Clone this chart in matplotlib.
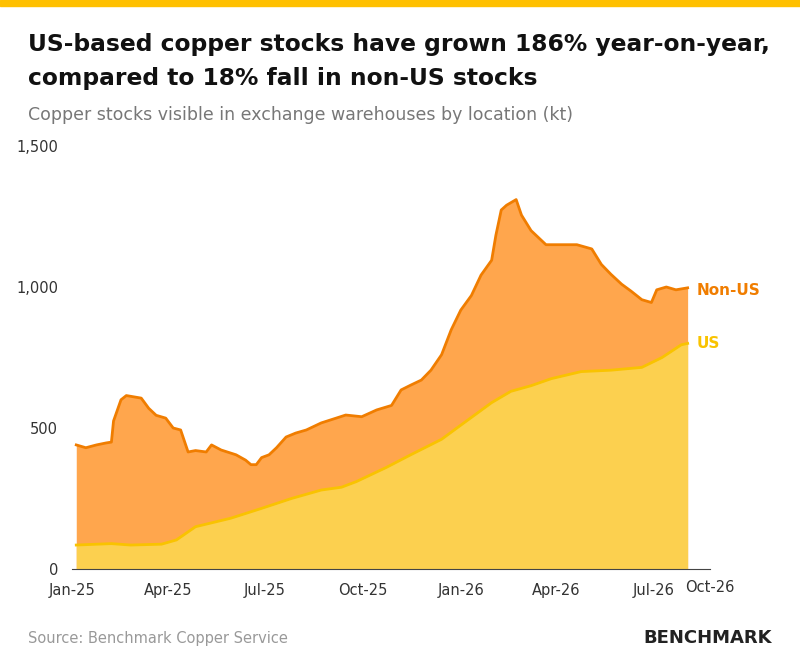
import matplotlib
matplotlib.use("Agg")
import matplotlib.pyplot as plt
import pandas as pd

total_dates = ["2025-01-05","2025-01-14","2025-01-24","2025-02-02","2025-02-07","2025-02-09","2025-02-16","2025-02-21",
 "2025-03-07","2025-03-14","2025-03-21","2025-03-30","2025-04-06","2025-04-13","2025-04-20","2025-04-27","2025-05-07",
 "2025-05-12","2025-05-21","2025-06-04","2025-06-13","2025-06-18","2025-06-23","2025-06-28","2025-07-05","2025-07-12",
 "2025-07-21","2025-07-30","2025-08-09","2025-08-23","2025-09-06","2025-09-15","2025-09-30","2025-10-14","2025-10-28",
 "2025-11-06","2025-11-15","2025-11-25","2025-12-04","2025-12-14","2025-12-23","2026-01-01","2026-01-11","2026-01-20",
 "2026-01-30","2026-02-03","2026-02-08","2026-02-13","2026-02-22","2026-02-27","2026-03-08","2026-03-22","2026-04-05",
 "2026-04-20","2026-05-04","2026-05-13","2026-05-22","2026-06-01","2026-06-10","2026-06-20","2026-06-29","2026-07-04",
 "2026-07-13","2026-07-22","2026-08-02"]
total_vals = [440,430,440,447,450,525,600,615,606,570,545,535,500,493,415,420,415,440,422,405,386,370,370,395,405,430,
 468,482,493,518,535,546,540,564,580,635,652,670,705,760,848,918,970,1042,1095,1184,1273,1290,1310,1255,1200,1150,1150,
 1150,1135,1080,1045,1010,985,955,945,990,1000,990,997]

us_dates = ["2025-01-05","2025-02-07","2025-02-25","2025-03-26","2025-04-09","2025-04-27","2025-05-30","2025-06-28",
 "2025-07-26","2025-08-23","2025-09-11","2025-09-25","2025-10-23","2025-11-15","2025-12-14","2026-01-01","2026-01-30",
 "2026-02-17","2026-03-08","2026-03-27","2026-04-24","2026-05-22","2026-06-20","2026-07-09","2026-07-27","2026-08-02"]
us_vals = [85,90,85,88,103,150,180,215,250,280,290,310,360,405,460,510,590,630,650,675,700,705,715,750,795,800]

tick_dates = ["2025-01-01","2025-04-01","2025-07-01","2025-10-01","2026-01-01","2026-04-01","2026-07-01"]
tick_labels = ["Jan-25","Apr-25","Jul-25","Oct-25","Jan-26","Apr-26","Jul-26"]

td = pd.to_datetime(total_dates); ud = pd.to_datetime(us_dates)

fig = plt.figure(figsize=(8, 6.69), dpi=100)
fig.patches.append(plt.Rectangle((0, 1-6/669), 1, 6/669, transform=fig.transFigure, color="#FFC000"))
fig.text(28/800, 1-33/669, "US-based copper stocks have grown 186% year-on-year,\ncompared to 18% fall in non-US stocks",
         fontsize=16.8, fontweight="bold", color="#111111", linespacing=1.6, va="top")
fig.text(28/800, 1-120/669, "Copper stocks visible in exchange warehouses by location (kt)", fontsize=12.5, color="#777777")
fig.text(28/800, 1-643/669, "Source: Benchmark Copper Service", fontsize=10.5, color="#999999")
fig.text(772/800, 1-643/669, "BENCHMARK", fontsize=13, fontweight="bold", color="#222222", ha="right")

ax = fig.add_axes([72/800, 1-569/669, (710-72)/800, (569-146)/669])
ax.fill_between(td, total_vals, color="#FFA64D", lw=0)
ax.fill_between(ud, us_vals, color="#FCD04F", lw=0)
ax.plot(td, total_vals, color="#F07D00", lw=2)
ax.plot(ud, us_vals, color="#F9C300", lw=2)
xmax = pd.Timestamp("2026-08-23")
ax.set_xlim(pd.Timestamp("2025-01-01"), xmax)
ax.set_ylim(0, 1500)
ax.set_yticks([0, 500, 1000, 1500])
ax.set_yticklabels(["0", "500", "1,000", "1,500"])
ax.set_xticks(pd.to_datetime(tick_dates))
ax.set_xticklabels(tick_labels)
ax.text(xmax, -38, "Oct-26", ha="center", va="top", fontsize=10.5, color="#333333")
ax.tick_params(length=0, labelsize=10.5, colors="#333333", pad=10)
for s in ["top", "right", "left"]:
    ax.spines[s].set_visible(False)
ax.spines["bottom"].set_color("#444444")
ax.text(ud[-1] + pd.Timedelta(days=8), total_vals[-1] - 10, "Non-US", color="#F07D00", fontweight="bold", fontsize=11, va="center")
ax.text(ud[-1] + pd.Timedelta(days=8), us_vals[-1], "US", color="#F9C300", fontweight="bold", fontsize=11, va="center")
fig.savefig("out.png", dpi=100)
